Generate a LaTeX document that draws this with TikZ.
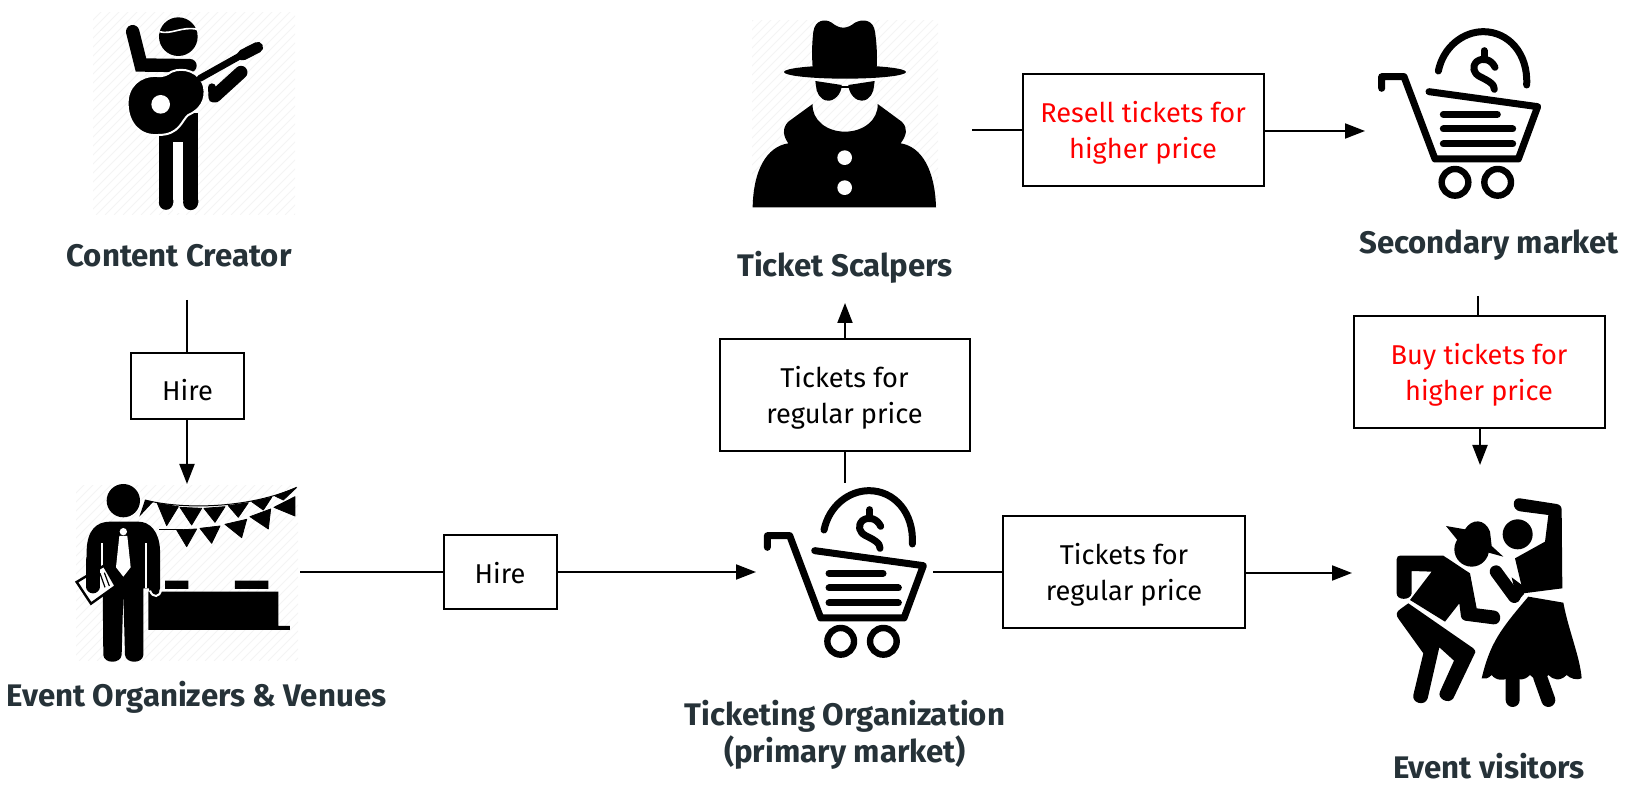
\documentclass[tikz,border=0pt]{standalone}
\usepackage{fontspec}
\setmainfont{Fira Sans}
\usetikzlibrary{arrows.meta}
\definecolor{labelink}{HTML}{263238}
\definecolor{stripeink}{HTML}{F4F4F4}
\tikzset{
  boxnode/.style={draw=black,line width=1pt,fill=white,inner sep=0pt,align=center,text=black,font=\fontsize{13.6}{18}\selectfont},
  redtext/.style={text=red},
  title/.style={text=labelink,inner sep=0pt,anchor=base,align=center,font=\fontsize{15.6}{18.5}\selectfont\bfseries},
  link/.style={line width=1pt,draw=black},
  arrowlink/.style={link,-{Triangle[length=10pt,width=7.5pt]}},
  ink/.style={fill=black,draw=none},
  flag/.style={fill=black,draw=black,line width=0.4pt,line join=round},
  stroke/.style={draw=black,line cap=round,line join=round,line width=#1},
}
\newcommand{\lowerline}{\rule{0pt}{13pt}}
\newcommand{\hatchsquare}[4]{%
  \begin{scope}
    \clip (#1,#2) rectangle (#3,#4);
    \foreach \k in {-240,-231,...,300} {
      \draw[stripeink,line width=0.5pt] (#1+\k,#4) -- ++(240,-240);
    }
  \end{scope}}
\newcommand{\carticon}[2]{%
  \begin{scope}[shift={(#1,#2)},scale=1/3]
    \draw[stroke=3.5pt] (65,235) -- (65,200) -- (132,200) -- (225,447) -- (475,447) -- (533,290) -- (207,245);
    \draw[stroke=3.5pt] (250,313) -- (412,313) (250,357) -- (458,357) (250,402) -- (458,402);
    \draw[stroke=3.2pt] (285,517) circle[radius=40] (413,517) circle[radius=40];
    \draw[stroke=3.5pt] (235,183) .. controls (250,110) and (310,65) .. (370,65) .. controls (445,65) and (505,130) .. (500,225);
    \draw[stroke=3.5pt] (405,172) .. controls (395,150) and (370,140) .. (350,155) .. controls (335,170) and (340,190) .. (360,200) .. controls (380,210) and (405,222) .. (403,238);
    \draw[stroke=3.5pt] (372,122) -- (372,145);
  \end{scope}}
\begin{document}
\begin{tikzpicture}[x=0.5pt,y=-0.5pt]
\useasboundingbox (0,0) rectangle (1639,806);
% hatching
\hatchsquare{93}{13}{295}{215}
\hatchsquare{76}{486}{298}{661}
\hatchsquare{752}{21}{938}{207}
% guitar player
\begin{scope}[shift={(60,0)},scale=1/3]
  \fill[ink] (355,110) circle[radius=58];
  \draw[white,line width=0.8pt] (298,95) .. controls (335,105) and (365,78) .. (412,88);
  \draw[stroke=6.7pt,line cap=round,line join=miter] (218,95) -- (243,195) -- (390,197);
  \fill[ink] (297,340) rectangle (415,600);
  \fill[white] (340,425) rectangle (370,640);
  \fill[ink] (318,608) circle[radius=21.5] (392,608) circle[radius=22.5];
  \fill[ink] (297,600) rectangle (340,608) (370,600) rectangle (415,608);
  \draw[white,fill=black,line width=1pt] (203,315) .. controls (200,260) and (240,225) .. (290,228) .. controls (310,230) and (320,225) .. (335,215) .. controls (370,200) and (420,215) .. (432,260) .. controls (440,300) and (420,330) .. (385,345) .. controls (365,360) and (360,405) .. (295,405) .. controls (240,410) and (205,370) .. (203,315) -- cycle;
  \fill[white] (302,313) circle[radius=28];
  \draw[stroke=3.4pt] (420,235) -- (545,165);
  \draw[stroke=5.5pt] (548,165) -- (593,142);
  \draw[stroke=6.5pt] (465,288) -- (543,217);
  \draw[stroke=4pt] (456,262) -- (458,295);
\end{scope}
% organizer
\begin{scope}[shift={(50,460)},scale=1/3]
  \draw[black,line width=0.5pt] (285,120) .. controls (400,150) and (600,145) .. (740,82);
  \fill[ink] (285,120) -- (310,125) -- (268,170) -- cycle;
  \draw[flag] (322,130) -- (385,140) -- (350,197) -- cycle;
  \draw[flag] (390,142) -- (455,145) -- (425,195) -- cycle;
  \draw[flag] (462,145) -- (525,140) -- (495,187) -- cycle;
  \draw[flag] (535,137) -- (595,128) -- (565,172) -- cycle;
  \draw[flag] (605,125) -- (665,112) -- (640,150) -- cycle;
  \draw[flag] (675,108) -- (738,84) -- (700,120) -- cycle;
  \draw[white,line width=0.8pt] (400,204) .. controls (520,200) and (640,170) .. (750,97);
  \draw[black,line width=0.5pt] (328,208) -- (400,208);
  \draw[flag] (380,210) -- (440,207) -- (410,260) -- cycle;
  \draw[flag] (450,205) -- (510,198) -- (485,250) -- cycle;
  \draw[flag] (525,193) -- (590,178) -- (575,233) -- cycle;
  \draw[flag] (600,170) -- (662,147) -- (655,207) -- cycle;
  \draw[flag] (672,142) -- (735,110) -- (735,168) -- cycle;
  \fill[ink] (295,395) rectangle (685,510) (685,498) rectangle (720,510);
  \fill[ink] (345,362) rectangle (415,387) (555,362) rectangle (655,387);
  \fill[ink] (220,122) circle[radius=50];
  \fill[ink] (108,380) -- (110,270) .. controls (112,210) and (140,185) .. (180,185) -- (265,185) .. controls (300,185) and (328,215) .. (330,270) -- (330,385) .. controls (325,415) and (300,415) .. (297,385) -- (280,385) -- (280,585) .. controls (278,612) and (228,612) .. (225,585) -- (220,400) -- (215,585) .. controls (212,612) and (162,612) .. (160,585) -- (158,380) -- cycle;
  \draw[white,line width=0.7pt] (156,250) -- (156,370) (288,250) -- (288,385);
  \fill[white] (208,228) -- (232,228) -- (242,322) -- (220,350) -- (198,322) -- cycle;
  \fill[white] (220,215) circle[radius=11];
  \draw[black,fill=white,line width=1.2pt] (80,366) -- (162,317) -- (197,378) -- (123,431) -- cycle;
  \draw[black,line width=0.6pt] (150,340) -- (165,382) (163,338) -- (178,378);
  \draw[stroke=6.7pt] (129,300) -- (129,380);
  \draw[white,line width=1pt] (300,392) .. controls (308,415) and (330,412) .. (333,390);
\end{scope}
% scalper
\begin{scope}[shift={(730,0)},scale=1/3]
  \fill[ink] (248,205) .. controls (245,160) and (246,130) .. (250,95) .. controls (255,60) and (285,55) .. (305,68) .. controls (330,88) and (350,88) .. (375,68) .. controls (400,55) and (430,60) .. (435,95) .. controls (440,130) and (442,160) .. (440,205) -- cycle;
  \fill[ink] (345,216) ellipse[x radius=183,y radius=20];
  \fill[ink] (256,243) -- (335,255) .. controls (335,285) and (310,303) .. (295,302) .. controls (270,302) and (258,275) .. (258,258) -- cycle;
  \fill[ink] (434,243) -- (355,255) .. controls (357,285) and (380,303) .. (395,302) .. controls (420,302) and (432,275) .. (432,258) -- cycle;
  \draw[black,line width=1pt] (330,260) -- (360,260);
  \fill[ink] (248,312) -- (175,365) .. controls (155,385) and (160,410) .. (175,430) .. controls (110,440) and (70,510) .. (68,622) -- (618,622) .. controls (615,510) and (575,440) .. (512,430) .. controls (530,405) and (535,385) .. (515,365) -- (443,312) .. controls (445,360) and (400,395) .. (345,395) .. controls (290,395) and (245,360) .. (248,312) -- cycle;
  \fill[white] (344,473) circle[radius=22] (344,563) circle[radius=22];
\end{scope}
% carts
\carticon{1360}{10}
\carticon{745.7}{469}
\begin{scope}[shift={(1380,490)},scale=1/3]
  % woman
  \fill[ink] (413,133) circle[radius=45];
  \fill[ink] (420,25) -- (530,42) .. controls (540,44) and (545,50) .. (545,60) -- (547,295) -- (430,310) -- (405,205) -- (495,155) -- (505,75) -- (420,64) .. controls (395,60) and (395,22) .. (420,25) -- cycle;
  \draw[stroke=6.3pt] (348,245) -- (403,320);
  \fill[ink] (395,262) -- (432,290) -- (432,312) -- (412,335) -- cycle;
  \fill[ink] (445,320) -- (550,338) .. controls (565,420) and (600,500) .. (605,565) .. controls (590,572) and (570,565) .. (560,555) .. controls (540,575) and (520,570) .. (505,555) .. controls (490,575) and (460,570) .. (450,555) .. controls (430,575) and (410,570) .. (395,555) .. controls (375,578) and (345,570) .. (335,555) .. controls (325,565) and (315,568) .. (305,565) .. controls (330,460) and (360,420) .. (445,320) -- cycle;
  \draw[stroke=7pt] (398,560) -- (398,630) (480,560) -- (505,630);
  % man
  \fill[ink] (275,178) circle[radius=52];
  \fill[ink] (198,108) -- (255,118) .. controls (275,85) and (315,85) .. (330,125) -- (335,168) -- (370,200) -- (315,185) -- (232,150) -- cycle;
  \fill[ink] (50,208) .. controls (50,200) and (55,197) .. (60,197) -- (190,197) -- (270,250) -- (290,355) -- (345,362) .. controls (368,368) and (365,405) .. (340,403) -- (255,392) .. controls (247,390) and (245,385) .. (243,380) -- (238,340) -- (195,395) -- (90,330) -- (155,245) -- (95,243) -- (95,310) .. controls (92,332) and (50,332) .. (50,310) -- cycle;
  \fill[ink] (85,340) -- (280,475) .. controls (290,485) and (285,490) .. (282,495) -- (220,625) .. controls (205,645) and (170,625) .. (180,605) -- (222,512) -- (178,472) -- (143,625) .. controls (135,650) and (95,640) .. (100,615) -- (130,490) -- (58,390) .. controls (45,375) and (50,365) .. (60,358) -- cycle;
\end{scope}
% titles
\node[title] (creator) at (179,267) {Content Creator};
\node[title] (organizers) at (196.5,706) {Event Organizers \& Venues};
\node[title,anchor=center] (ticketing) at (845,735) {Ticketing Organization\\(primary market)};
\node[title] (scalpers) at (845,277) {Ticket Scalpers};
\node[title] (secondary) at (1489,254) {Secondary market};
\node[title] (visitors) at (1489,778) {Event visitors};
% boxes
\node[boxnode,minimum width=56.5pt,minimum height=33pt] (hirev) at (187.5,386.5) {\rule{0pt}{14pt}Hire};
\node[boxnode,minimum width=56.5pt,minimum height=37pt] (hireh) at (500,572.5) {\rule{0pt}{11pt}Hire};
\node[boxnode,minimum width=125pt,minimum height=56pt] (regup) at (844.5,395.5) {\lowerline Tickets for\\regular price};
\node[boxnode,minimum width=121pt,minimum height=56pt] (regright) at (1124,572) {\lowerline Tickets for\\regular price};
\node[boxnode,redtext,minimum width=120.5pt,minimum height=56pt] (resell) at (1143,130.5) {\lowerline Resell tickets for\\higher price};
\node[boxnode,redtext,minimum width=125.5pt,minimum height=56pt] (buy) at (1479,372.5) {\lowerline Buy tickets for\\higher price};
% connector ends
\coordinate (a1) at (187,300);
\coordinate (a2) at (187,484);
\coordinate (b1) at (300,572);
\coordinate (b2) at (756,572);
\coordinate (c1) at (845,483);
\coordinate (c2) at (845,303);
\coordinate (d1) at (972,130);
\coordinate (d2) at (1365,131);
\coordinate (e1) at (1478,296);
\coordinate (e2) at (1480,465);
\coordinate (f1) at (933,572);
\coordinate (f2) at (1352,573);
\draw[link] (a1) -- (a1 |- hirev.north);
\draw[arrowlink] (a2 |- hirev.south) -- (a2);
\draw[link] (b1) -- (b1 -| hireh.west);
\draw[arrowlink] (b2 -| hireh.east) -- (b2);
\draw[link] (c1) -- (c1 |- regup.south);
\draw[arrowlink] (c2 |- regup.north) -- (c2);
\draw[link] (d1) -- (d1 -| resell.west);
\draw[arrowlink] (d2 -| resell.east) -- (d2);
\draw[link] (e1) -- (e1 |- buy.north);
\draw[arrowlink] (e2 |- buy.south) -- (e2);
\draw[link] (f1) -- (f1 -| regright.west);
\draw[arrowlink] (f2 -| regright.east) -- (f2);
\end{tikzpicture}
\end{document}
